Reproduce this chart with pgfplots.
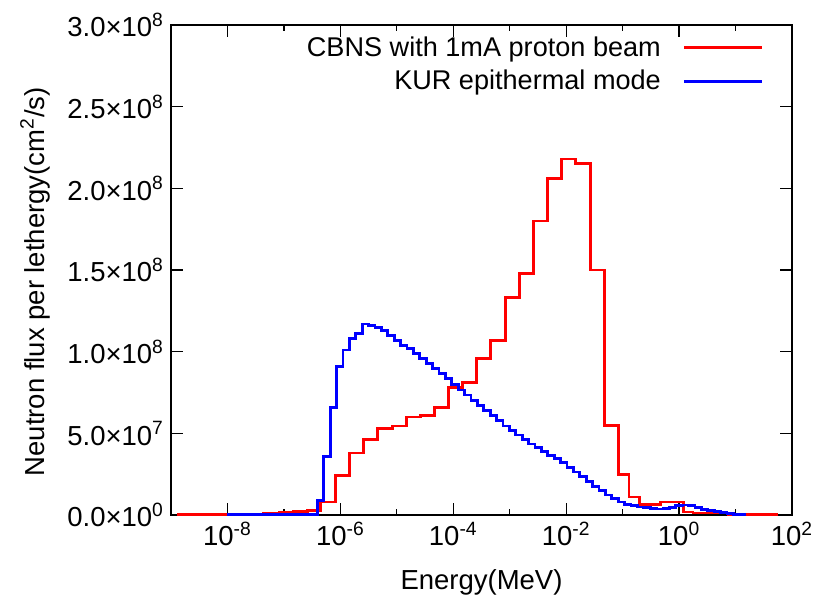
\documentclass[border=0pt]{standalone}
\usepackage{fontspec}
\setmainfont{Liberation Sans}
\usepackage{pgfplots}
\pgfplotsset{compat=1.18}
\begin{document}
\begin{tikzpicture}
\begin{axis}[
    scale only axis, width=310.5bp, height=245bp,
    xmode=log, xmin=1e-9, xmax=1e2,
    ymin=0, ymax=3e8,
    xtick={1e-8,1e-6,1e-4,1e-2,1,1e2},
    xticklabels={10\textsuperscript{-8},10\textsuperscript{-6},10\textsuperscript{-4},10\textsuperscript{-2},10\textsuperscript{0},10\textsuperscript{2}},
    minor xtick={1e-9,1e-7,1e-5,1e-3,1e-1,1e1},
    ytick={0,5e7,1e8,1.5e8,2e8,2.5e8,3e8},
    yticklabels={0.0×10\textsuperscript{0},5.0×10\textsuperscript{7},1.0×10\textsuperscript{8},1.5×10\textsuperscript{8},2.0×10\textsuperscript{8},2.5×10\textsuperscript{8},3.0×10\textsuperscript{8}},
    scaled y ticks=false,
    tick align=inside, tick pos=both,
    major tick length=6bp, minor tick length=3bp,
    axis line style={line width=0.6bp},
    every tick/.style={black, line width=0.6bp},
    tick label style={font=\fontsize{13.8}{16}\selectfont},
    label style={font=\fontsize{13.8}{16}\selectfont},
    xlabel={Energy(MeV)},
    ylabel={Neutron flux per lethergy(cm\textsuperscript{2}/s)},
    xlabel style={at={(axis description cs:0.5,-0.137)}, anchor=center},
    ylabel style={at={(axis description cs:-0.219,0.476)}, anchor=center},
    legend plot pos=right, legend cell align=right,
    legend image code/.code={\path (0bp,0bp); \draw[#1, line width=1.4bp] (9bp,0.25bp) -- (48bp,0.25bp);},
    legend style={draw=none, fill=none, at={(axis description cs:0.955,0.985)},
                  anchor=north east, font=\fontsize{13.6}{16.5}\selectfont,
                  inner sep=0pt, row sep=1.5bp},
]
% CBNS with 1 mA proton beam
\addplot[const plot, red, line width=1.4bp] coordinates {
    (1.30e-9,3e5) (4.34e-8,1.0e6) (8.32e-8,1.3e6) (1.47e-7,2.0e6)
    (2.61e-7,3.0e6) (4.43e-7,8e6) (8.17e-7,2.4e7) (1.44e-6,3.8e7)
    (2.55e-6,4.6e7) (4.52e-6,5.3e7) (8.32e-6,5.45e7) (1.47e-5,6.0e7)
    (2.61e-5,6.1e7) (4.61e-5,6.6e7) (8.17e-5,7.8e7) (1.44e-4,8.1e7)
    (2.55e-4,9.6e7) (4.52e-4,1.07e8) (8.32e-4,1.33e8) (1.47e-3,1.48e8)
    (2.61e-3,1.80e8) (4.61e-3,2.06e8) (8.17e-3,2.18e8) (1.44e-2,2.15e8)
    (2.66e-2,1.50e8) (4.71e-2,5.5e7) (8.32e-2,2.5e7) (1.30e-1,1.1e7)
    (1.96e-1,6.5e6) (4.61e-1,8.0e6) (1.18,1.8e6) (1.77,1.2e6)
    (7.36,5e5) (56.5,5e5)
};
% KUR epithermal mode
\addplot[const plot, blue, line width=1.4bp] coordinates {
    (1.0e-8,3e5) (3.917e-7,9e6) (5.085e-7,3.6e7) (6.601e-7,6.6e7)
    (8.570e-7,9.1e7) (1.1125e-6,1.01e8) (1.4443e-6,1.08e8) (1.8750e-6,1.11e8)
    (2.4341e-6,1.17e8) (3.160e-6,1.16e8) (4.102e-6,1.15e8) (5.326e-6,1.13e8)
    (6.914e-6,1.10e8) (8.976e-6,1.07e8) (1.1652e-5,1.04e8) (1.5127e-5,1.02e8)
    (1.9638e-5,9.9e7) (2.5494e-5,9.6e7) (3.3096e-5,9.3e7) (4.2965e-5,8.95e7)
    (5.578e-5,8.65e7) (7.241e-5,8.35e7) (9.400e-5,8.0e7) (1.2203e-4,7.65e7)
    (1.5842e-4,7.35e7) (2.0567e-4,7.0e7) (2.670e-4,6.7e7) (3.466e-4,6.4e7)
    (4.500e-4,6.1e7) (5.842e-4,5.8e7) (7.584e-4,5.45e7) (9.845e-4,5.15e7)
    (1.2781e-3,4.9e7) (1.6593e-3,4.6e7) (2.1541e-3,4.35e7) (2.7965e-3,4.15e7)
    (3.630e-3,3.9e7) (4.713e-3,3.65e7) (6.118e-3,3.45e7) (7.943e-3,3.2e7)
    (1.0311e-2,2.93e7) (1.3386e-2,2.63e7) (1.7378e-2,2.36e7) (2.256e-2,2.03e7)
    (2.929e-2,1.76e7) (3.802e-2,1.50e7) (4.936e-2,1.22e7) (6.408e-2,1.00e7)
    (8.318e-2,8.0e6) (0.1080,6.6e6) (0.1402,5.6e6) (0.1820,4.9e6)
    (0.2363,4.4e6) (0.3067,3.9e6) (0.3982,3.7e6) (0.5169,4.0e6)
    (0.6711,4.8e6) (0.8712,5.7e6) (1.131,6.1e6) (1.468,5.8e6)
    (1.906,4.8e6) (2.475,3.6e6) (3.213,2.7e6) (4.171,1.9e6)
    (5.414,1.3e6) (7.029,8e5) (9.125,4e5) (11.85,2e5) (15.38,2e5)
};
\legend{CBNS with 1mA proton beam, KUR epithermal mode}
\end{axis}
\pgfresetboundingbox
\path[use as bounding box] (-85.5bp,-43.5bp) rectangle (321bp,257.5bp);
\end{tikzpicture}
\end{document}
